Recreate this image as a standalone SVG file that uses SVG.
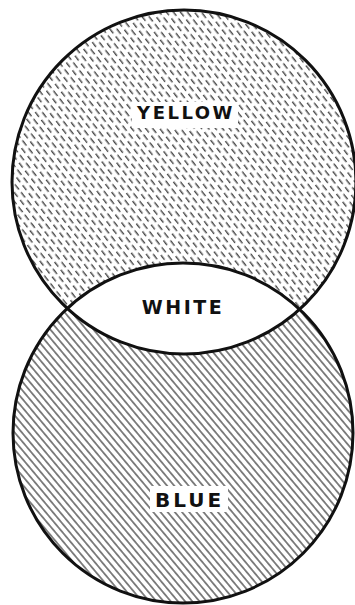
<svg xmlns="http://www.w3.org/2000/svg" width="355" height="605" viewBox="0 0 355 605">
<style>
.outline{fill:none;stroke:#111;stroke-width:3}
.lbl{font-family:"DejaVu Sans","Liberation Sans",Arial,sans-serif;font-weight:bold;fill:#111;text-anchor:middle}
</style>
<defs>
<pattern id="dashHatch" patternUnits="userSpaceOnUse" width="11" height="10" patternTransform="rotate(-38)">
<line x1="2.75" y1="0" x2="2.75" y2="5.5" stroke="#333" stroke-width="1.3" stroke-linecap="round"/>
<line x1="8.25" y1="5" x2="8.25" y2="10" stroke="#333" stroke-width="1.3" stroke-linecap="round"/>
<line x1="8.25" y1="0" x2="8.25" y2="0.5" stroke="#333" stroke-width="1.3" stroke-linecap="round"/>
</pattern>
<pattern id="lineHatch" patternUnits="userSpaceOnUse" width="5.5" height="10" patternTransform="rotate(-40)">
<line x1="2.75" y1="0" x2="2.75" y2="10" stroke="#222" stroke-width="1.1"/>
</pattern>
<clipPath id="topClip"><circle cx="184" cy="182" r="172"/></clipPath>
</defs>
<rect width="355" height="605" fill="#fff"/>
<g id="blue">
<circle cx="183" cy="433" r="170" fill="url(#lineHatch)"/>
<rect x="150" y="486" width="78" height="26" fill="#fff"/>
<text class="lbl" x="189.5" y="507" font-size="20" letter-spacing="3">BLUE</text>
</g>
<g id="yellow">
<circle cx="184" cy="182" r="172" fill="url(#dashHatch)"/>
<rect x="132" y="102" width="106" height="26" fill="#fff"/>
<text class="lbl" x="186" y="119" font-size="18" letter-spacing="2.5">YELLOW</text>
</g>
<g id="white">
<circle cx="183" cy="433" r="170" fill="#fff" clip-path="url(#topClip)"/>
<text class="lbl" x="183" y="314" font-size="19" letter-spacing="2.5">WHITE</text>
</g>
<g id="outlines">
<circle class="outline" cx="184" cy="182" r="172"/>
<circle class="outline" cx="183" cy="433" r="170"/>
</g>
</svg>
